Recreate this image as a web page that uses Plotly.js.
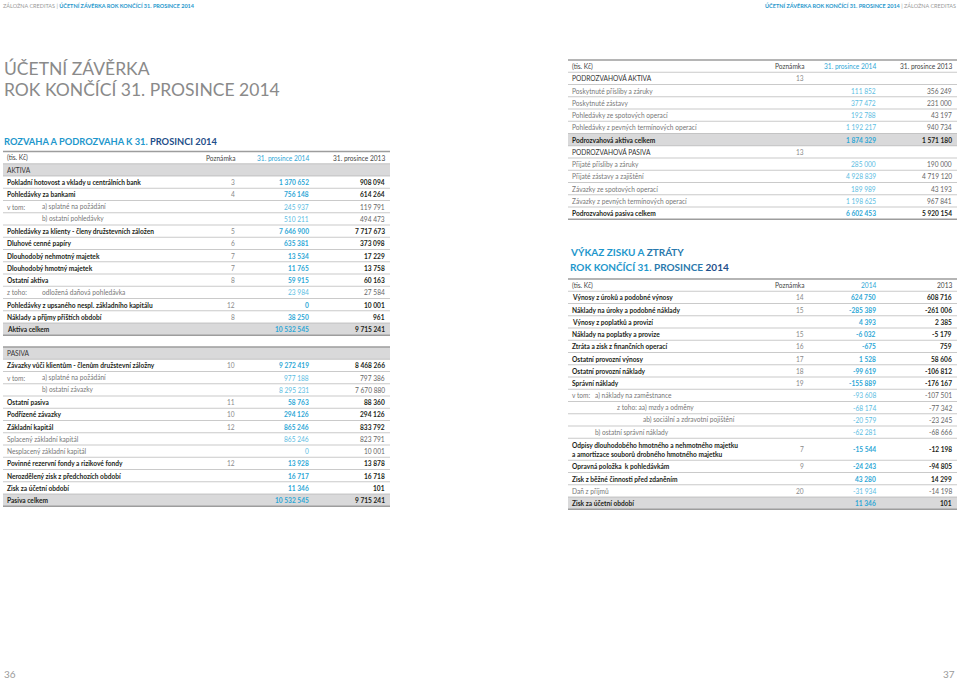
<!DOCTYPE html>
<html>
<head>
<meta charset="utf-8">
<script src="https://cdn.plot.ly/plotly-3.0.1.min.js"></script>
<style>
html, body { margin: 0; padding: 0; background: #fff; }
#plot { width: 959px; height: 679px; }
</style>
</head>
<body>
<div id="plot"></div>
<script>
// column headers
const rozvahaHeader = ['(tis. Kč)', 'Poznámka', '31. prosince 2014', '31. prosince 2013'];
const vykazHeader = ['(tis. Kč)', 'Poznámka', '2014', '2013'];

// rozvaha - aktiva
const aktivaLabels = ['AKTIVA', 'Pokladní hotovost a vklady u centrálních bank', 'Pohledávky za bankami',
    'a) splatné na požádání', 'b) ostatní pohledávky', 'Pohledávky za klienty - členy družstevních záložen',
    'Dluhové cenné papíry', 'Dlouhodobý nehmotný majetek', 'Dlouhodobý hmotný majetek', 'Ostatní aktiva',
    'odložená daňová pohledávka', 'Pohledávky z upsaného nespl. základního kapitálu',
    'Náklady a příjmy příštích období', 'Aktiva celkem'];
const aktivaLead = ['', '', '', 'v tom:', '', '', '', '', '', '', 'z toho:', '', '', ''];
const aktivaNotes = ['', '3', '4', '', '', '5', '6', '7', '7', '8', '', '12', '8', ''];
const aktiva2014 = [null, 1370652, 756148, 245937, 510211, 7646900, 635381, 13534, 11765, 59915, 23984, 0, 38250, 10532545];
const aktiva2013 = [null, 908094, 614264, 119791, 494473, 7717673, 373098, 17229, 13758, 60163, 27584, 10001, 961, 9715241];
const aktivaKinds = ['sec', 'b', 'b', 'l', 'l', 'b', 'b', 'b', 'b', 'b', 'l', 'b', 'b', 'tot'];
const aktivaIndent = [0, 0, 0, 1, 1, 0, 0, 0, 0, 0, 1, 0, 0, 0];

// rozvaha - pasiva
const pasivaLabels = ['PASIVA', 'Závazky vůči klientům - členům družstevní záložny', 'a) splatné na požádání',
    'b) ostatní závazky', 'Ostatní pasiva', 'Podřízené závazky', 'Základní kapitál', 'Splacený základní kapitál',
    'Nesplacený základní kapitál', 'Povinné rezervní fondy a rizikové fondy', 'Nerozdělený zisk z předchozích období',
    'Zisk za účetní období', 'Pasiva celkem'];
const pasivaLead = ['', '', 'v tom:', '', '', '', '', '', '', '', '', '', ''];
const pasivaNotes = ['', '10', '', '', '11', '10', '12', '', '', '12', '', '', ''];
const pasiva2014 = [null, 9272419, 977188, 8295231, 58763, 294126, 865246, 865246, 0, 13928, 16717, 11346, 10532545];
const pasiva2013 = [null, 8468266, 797386, 7670880, 88360, 294126, 833792, 823791, 10001, 13878, 16718, 101, 9715241];
const pasivaKinds = ['sec', 'b', 'l', 'l', 'b', 'b', 'b', 'l', 'l', 'b', 'b', 'b', 'tot'];
const pasivaIndent = [0, 0, 1, 1, 0, 0, 0, 0, 0, 0, 0, 0, 0];

// podrozvaha
const podrozLabels = ['PODROZVAHOVÁ AKTIVA', 'Poskytnuté přísliby a záruky', 'Poskytnuté zástavy',
    'Pohledávky ze spotových operací', 'Pohledávky z pevných termínových operací', 'Podrozvahová aktiva celkem',
    'PODROZVAHOVÁ PASIVA', 'Přijaté přísliby a záruky', 'Přijaté zástavy a zajištění',
    'Závazky ze spotových operací', 'Závazky z pevných termínových operací', 'Podrozvahová pasiva celkem'];
const podrozNotes = ['13', '', '', '', '', '', '13', '', '', '', '', ''];
const podroz2014 = [null, 111852, 377472, 192788, 1192217, 1874329, null, 285000, 4928839, 189989, 1198625, 6602453];
const podroz2013 = [null, 356249, 231000, 43197, 940734, 1571180, null, 190000, 4719120, 43193, 967841, 5920154];
const podrozKinds = ['secw', 'l', 'l', 'l', 'l', 'tot', 'secw', 'l', 'l', 'l', 'l', 'b'];

// vykaz zisku a ztraty
const vykazLabels = ['Výnosy z úroků a podobné výnosy', 'Náklady na úroky a podobné náklady',
    'Výnosy z poplatků a provizí', 'Náklady na poplatky a provize', 'Ztráta a zisk z finančních operací',
    'Ostatní provozní výnosy', 'Ostatní provozní náklady', 'Správní náklady', 'a) náklady na zaměstnance',
    'z toho: aa) mzdy a odměny', 'ab) sociální a zdravotní pojištění', 'b) ostatní správní náklady',
    'Odpisy dlouhodobého hmotného a nehmotného majetku\na amortizace souborů drobného hmotného majetku',
    'Opravná položka  k pohledávkám', 'Zisk z běžné činnosti před zdaněním', 'Daň z příjmů', 'Zisk za účetní období'];
const vykazLead = ['', '', '', '', '', '', '', '', 'v tom:', '', '', '', '', '', '', '', ''];
const vykazNotes = ['14', '15', '', '15', '16', '17', '18', '19', '', '', '', '', '7', '9', '', '20', ''];
const vykaz2014 = [624750, -285389, 4393, -6032, -675, 1528, -99619, -155889, -93608, -68174, -20579, -62281, -15544, -24243, 43280, -31934, 11346];
const vykaz2013 = [608716, -261006, 2385, -5179, 759, 58606, -106812, -176167, -107501, -77342, -23245, -68666, -12198, -94805, 14299, -14198, 101];
const vykazKinds = ['b', 'b', 'b', 'b', 'b', 'b', 'b', 'b', 'l', 'l', 'l', 'l', 'b', 'b', 'b', 'l', 'tot'];
const vykazIndent = [0, 0, 0, 0, 0, 0, 0, 0, 1, 2, 3, 1, 0, 0, 0, 0, 0];

const FONT = 'Lato, "Noto Sans", sans-serif';
const TEAL = '#2ea7d6';
const TEAL_LIGHT = '#5cbde2';
const DARK = '#231f20';
const GREY = '#777777';
const BAND = '#d9d9da';
const FS = 6.6;
const ROW_H = 12.25;

const annotations = [];
const shapes = [];

function fmt(v) {
    if (v === null || v === undefined) return '';
    const s = Math.abs(v).toString().replace(/\B(?=(\d{3})+(?!\d))/g, ' ');
    return (v < 0 ? '-' : '') + s;
}

function text(x, y, str, opts) {
    annotations.push({
        x: x, y: y, xref: 'x', yref: 'y', text: str, showarrow: false,
        xanchor: opts.anchor || 'left', yanchor: 'middle', align: 'left',
        font: { family: FONT, size: opts.size || FS, color: opts.color || DARK, weight: opts.bold ? 700 : 400 }
    });
}

function hline(x0, x1, y, w, c) {
    shapes.push({ type: 'line', xref: 'x', yref: 'y', x0: x0, x1: x1, y0: y, y1: y,
        line: { color: c || '#b3b3b3', width: w || 0.7 } });
}

function drawTable(t) {
    let y = t.top;
    hline(t.x0, t.x1, y, 1.3, '#9d9d9d');
    if (t.header) {
        const c = y + ROW_H / 2;
        text(t.xLabel, c, t.header[0], { color: '#444' });
        text(t.xNote, c, t.header[1], { anchor: 'right', color: '#444' });
        text(t.x14, c, t.header[2], { anchor: 'right', color: TEAL });
        text(t.x13, c, t.header[3], { anchor: 'right', color: '#444' });
        y += ROW_H;
        hline(t.x0, t.x1, y);
    }
    const n = t.labels.length;
    for (let i = 0; i < n; i++) {
        const kind = t.kinds[i];
        const lines = t.labels[i].split('\n');
        const h = lines.length > 1 ? 22 : ROW_H;
        const c = y + h / 2;
        if (kind === 'sec' || kind === 'tot') {
            shapes.push({ type: 'rect', xref: 'x', yref: 'y', x0: t.x0, x1: t.x1, y0: y, y1: y + h,
                fillcolor: BAND, line: { width: 0 }, layer: 'below' });
        }
        const bold = kind === 'b' || kind === 'tot';
        const light = kind === 'l';
        const lab = lines.join('<br>');
        const ind = t.indent ? t.indentPx[t.indent[i]] : 0;
        if (t.lead && t.lead[i]) text(t.xLabel, c, t.lead[i], { color: GREY });
        text(t.xLabel + ind, c, lab, { bold: bold, color: light ? GREY : (kind.startsWith('sec') ? '#333' : DARK) });
        if (t.notes[i]) text(t.xNote, c, t.notes[i], { anchor: 'right', color: '#8a8a8a' });
        text(t.x14, c, fmt(t.v14[i]), { anchor: 'right', bold: bold, color: light ? TEAL_LIGHT : TEAL });
        text(t.x13, c, fmt(t.v13[i]), { anchor: 'right', bold: bold, color: light ? '#666' : DARK });
        y += h;
        hline(t.x0, t.x1, y, i === n - 1 ? 1.3 : 0.7, i === n - 1 ? '#9d9d9d' : '#b3b3b3');
    }
}

const leftCols = { x0: 3, x1: 390, xLabel: 5, xNote: 237, x14: 311, x13: 387, indentPx: [0, 35] };
const rightCols = { x0: 568, x1: 957, xLabel: 570, xNote: 806, x14: 878, x13: 954, indentPx: [0, 23, 45, 71] };

drawTable(Object.assign({}, leftCols, { top: 151.5, header: rozvahaHeader, labels: aktivaLabels, lead: aktivaLead,
    notes: aktivaNotes, v14: aktiva2014, v13: aktiva2013, kinds: aktivaKinds, indent: aktivaIndent }));
drawTable(Object.assign({}, leftCols, { top: 347, labels: pasivaLabels, lead: pasivaLead,
    notes: pasivaNotes, v14: pasiva2014, v13: pasiva2013, kinds: pasivaKinds, indent: pasivaIndent }));
drawTable(Object.assign({}, rightCols, { top: 60, header: rozvahaHeader, labels: podrozLabels,
    notes: podrozNotes, v14: podroz2014, v13: podroz2013, kinds: podrozKinds }));
drawTable(Object.assign({}, rightCols, { top: 279, header: vykazHeader, labels: vykazLabels, lead: vykazLead,
    notes: vykazNotes, v14: vykaz2014, v13: vykaz2013, kinds: vykazKinds, indent: vykazIndent }));

// titles and running heads
const NAVY = '#1f4f8a';
const BLUE = '#1e97cc';
text(2, 68, 'ÚČETNÍ ZÁVĚRKA', { size: 17.5, color: '#8a8a8a' });
text(2, 89, 'ROK KONČÍCÍ 31. PROSINCE 2014', { size: 17.5, color: '#8a8a8a' });
text(2, 141, '<span style="color:' + BLUE + '">ROZVAHA A PODROZVAHA K 31.</span> <span style="color:' + NAVY + '">PROSINCI 2014</span>', { size: 9.3, bold: true });
text(568, 252, '<span style="color:' + BLUE + '">VÝKAZ ZISKU A </span><span style="color:#2a79ad">ZTRÁTY</span>', { size: 10, bold: true });
text(568, 267, '<span style="color:' + BLUE + '">ROK KONČÍCÍ 31. </span><span style="color:#2a79ad">PROSINCE</span> <span style="color:' + NAVY + '">2014</span>', { size: 10, bold: true });
text(1, 5, '<span style="color:#999">ZÁLOŽNA CREDITAS | </span><b><span style="color:' + BLUE + '">ÚČETNÍ ZÁVĚRKA ROK KONČÍCÍ 31. PROSINCE 2014</span></b>', { size: 5.5 });
annotations.push({ x: 958, y: 5, xref: 'x', yref: 'y', showarrow: false, xanchor: 'right', yanchor: 'middle',
    text: '<b><span style="color:' + BLUE + '">ÚČETNÍ ZÁVĚRKA ROK KONČÍCÍ 31. PROSINCE 2014</span></b><span style="color:#999"> | ZÁLOŽNA CREDITAS</span>',
    font: { family: FONT, size: 5.5 } });
text(2, 674, '36', { size: 10, color: '#9a9a9a' });
text(957, 674, '37', { size: 10, color: '#9a9a9a', anchor: 'right' });

const layout = {
    width: 959, height: 679,
    margin: { l: 0, r: 0, t: 0, b: 0 },
    paper_bgcolor: '#fff', plot_bgcolor: '#fff',
    showlegend: false,
    xaxis: { range: [0, 959], visible: false, fixedrange: true },
    yaxis: { range: [679, 0], visible: false, fixedrange: true },
    annotations: annotations,
    shapes: shapes
};

Plotly.newPlot('plot', [{ x: [], y: [], type: 'scatter', hoverinfo: 'skip' }], layout, { displayModeBar: false, staticPlot: true });
</script>
</body>
</html>
